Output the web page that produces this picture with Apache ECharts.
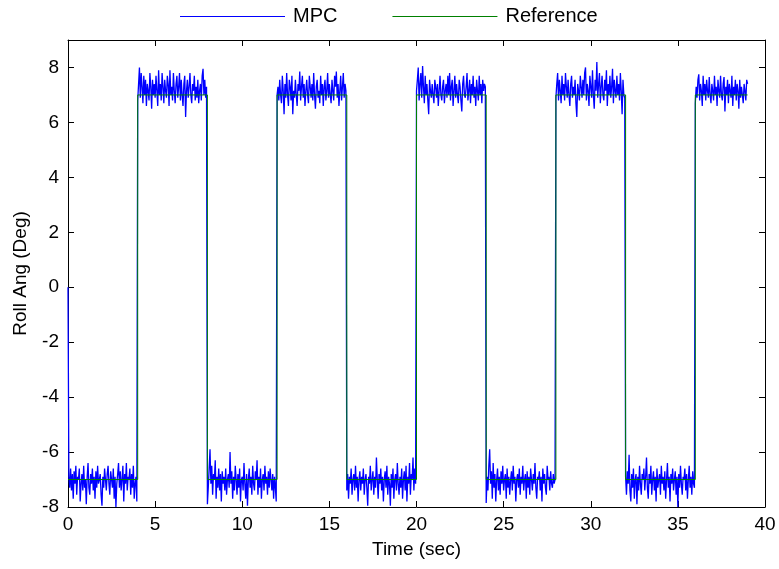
<!DOCTYPE html>
<html>
<head>
<meta charset="utf-8">
<script src="https://cdn.jsdelivr.net/npm/echarts@6/dist/echarts.min.js"></script>
<style>html,body{margin:0;padding:0;background:#fff}#c{width:779px;height:569px}</style>
</head>
<body>
<div id="c"></div>
<script>
// Sample step (s) of the MPC trace
var dt = 0.05;
// MPC roll angle, segment by segment (4 s each, last one 3 s)
var seg0 = [0.0,-6.9,-7.3,-6.6,-7.4,-6.8,-7.7,-6.7,-7.15,-6.5,-7.55,-6.9,-7.0,-6.6,-7.8,-7.15,-6.8,-7.4,-6.5,-7.3,
-7.0,-7.9,-6.9,-6.4,-7.3,-7.55,-6.8,-7.15,-6.6,-7.4,-6.9,-7.7,-6.7,-7.3,-6.5,-7.15,-7.0,-6.8,-7.55,-7.95,
-6.9,-7.3,-6.6,-7.0,-7.4,-6.8,-6.5,-7.15,-7.55,-6.7,-7.0,-7.3,-6.6,-7.7,-6.9,-8.0,-7.15,-6.8,-6.4,-7.3,
-6.7,-7.4,-7.0,-6.5,-7.8,-6.8,-7.15,-6.4,-7.4,-6.9,-7.0,-6.6,-7.55,-6.8,-7.3,-6.5,-7.7,-7.15,-6.9,-7.8];
var seg1 = [6.8,7.4,8.0,6.9,7.8,7.3,6.7,7.7,7.0,7.55,6.6,7.4,7.15,6.8,7.8,7.3,6.5,7.55,7.0,7.4,
6.9,7.7,7.15,6.6,7.9,7.0,7.4,6.8,7.8,7.3,6.7,7.55,7.15,6.9,7.7,7.4,6.6,7.9,7.0,7.3,
6.8,7.8,7.15,6.7,7.4,7.7,6.9,7.3,7.8,6.8,7.55,7.0,6.6,7.4,7.7,6.2,7.15,7.55,6.9,7.3,
7.8,7.0,6.7,7.4,7.15,7.7,6.8,7.3,6.9,7.55,6.7,7.15,7.4,6.8,7.7,7.95,7.0,7.55,6.9,7.3];
var seg2 = [-7.9,-7.3,-6.6,-5.9,-7.15,-6.5,-7.55,-6.8,-7.0,-6.3,-7.7,-6.9,-7.3,-6.6,-7.4,-6.8,-7.8,-6.7,-7.15,-6.9,
-7.4,-6.6,-7.55,-7.0,-6.8,-7.3,-6.0,-7.15,-6.7,-7.7,-6.9,-7.4,-6.5,-7.0,-7.55,-6.8,-7.3,-6.6,-7.8,-7.0,
-6.9,-7.4,-6.4,-7.15,-7.7,-6.8,-7.95,-7.0,-6.6,-7.3,-6.9,-7.55,-6.5,-7.15,-7.4,-6.7,-7.0,-6.3,-7.55,-6.9,
-7.3,-6.6,-7.7,-7.0,-6.8,-7.4,-6.5,-7.15,-6.9,-7.55,-6.7,-7.3,-6.6,-7.0,-7.4,-6.8,-7.7,-6.9,-7.3,-7.8];
var seg3 = [7.0,7.3,6.8,7.55,7.0,6.7,7.7,7.15,6.3,7.4,6.9,7.8,7.0,6.6,7.55,7.3,6.8,7.7,6.3,7.15,
6.9,7.55,7.0,6.6,7.4,7.15,7.85,6.8,7.3,7.7,6.9,7.4,6.6,7.15,7.55,7.0,6.7,7.7,7.3,6.9,
7.4,6.8,7.8,7.0,6.5,7.3,7.55,6.9,7.15,6.7,7.7,7.0,7.4,6.6,7.3,7.55,6.8,7.15,7.8,6.9,
7.4,7.0,6.7,7.55,7.15,6.8,7.7,7.3,7.85,6.9,7.4,6.6,7.15,7.7,6.8,7.3,7.8,6.9,7.4,7.15];
var seg4 = [-7.4,-6.8,-7.7,-6.9,-7.15,-6.6,-7.55,-7.0,-6.8,-7.4,-6.5,-7.3,-6.9,-7.8,-7.0,-6.7,-7.4,-6.9,-7.15,-6.6,
-7.55,-7.0,-6.8,-7.3,-7.95,-6.9,-7.15,-6.5,-7.4,-7.0,-6.7,-7.55,-6.9,-7.3,-6.2,-7.0,-7.7,-6.8,-7.15,-6.6,
-7.4,-6.9,-7.8,-7.0,-6.7,-7.3,-6.5,-7.55,-6.9,-7.15,-7.95,-6.8,-7.3,-6.6,-7.7,-7.0,-6.8,-7.4,-6.4,-7.15,
-7.55,-6.9,-7.3,-6.6,-7.7,-7.0,-6.7,-7.4,-6.5,-7.8,-6.9,-7.15,-6.4,-7.55,-6.8,-7.0,-6.2,-7.4,-6.6,-7.15];
var seg5 = [7.15,7.55,8.0,6.8,7.4,7.8,6.9,8.05,7.3,6.7,7.7,7.0,7.4,6.8,6.3,7.55,7.15,6.9,7.4,7.0,
6.7,7.55,7.3,6.9,7.4,6.6,7.15,7.7,7.0,6.8,7.3,7.55,6.7,7.15,7.4,6.9,7.7,7.0,7.8,6.8,
7.3,7.55,6.6,7.15,7.7,6.9,7.4,7.0,6.7,7.55,7.3,6.8,6.4,7.4,7.7,7.0,6.9,7.3,7.8,6.8,
7.15,7.55,6.7,7.4,7.0,7.7,6.9,7.3,6.6,7.55,7.15,6.8,7.7,7.0,7.4,6.7,7.55,7.15,7.4,7.3];
var seg6 = [-7.85,-6.9,-7.4,-6.5,-5.9,-7.15,-6.7,-7.7,-6.4,-7.3,-6.8,-7.8,-7.0,-6.6,-7.4,-6.9,-7.55,-6.7,-7.15,-6.5,
-7.4,-7.0,-6.8,-7.7,-6.6,-7.3,-6.9,-7.55,-7.0,-6.7,-7.4,-6.5,-7.15,-6.9,-7.8,-7.0,-6.8,-7.3,-6.6,-7.55,
-6.9,-7.15,-6.5,-7.4,-7.0,-6.8,-7.7,-6.7,-7.3,-6.9,-7.55,-6.6,-7.0,-7.4,-6.8,-7.15,-6.4,-7.3,-7.7,-6.9,
-7.0,-6.7,-7.4,-6.9,-7.8,-6.6,-7.15,-6.8,-7.3,-7.55,-6.5,-7.0,-6.9,-7.4,-6.7,-7.15,-7.3,-6.8,-7.15,-7.0];
var seg7 = [6.9,7.4,7.8,6.8,7.55,7.15,6.7,7.7,7.0,7.4,6.8,7.8,7.3,6.9,7.55,7.0,6.6,7.4,7.7,6.9,
7.3,7.0,7.55,6.7,6.2,7.4,7.15,6.8,7.7,7.3,6.9,7.55,7.0,7.8,8.0,6.8,7.4,7.15,6.6,7.7,
7.3,6.9,7.9,7.0,6.5,7.55,7.15,8.2,6.9,7.4,7.8,6.7,7.3,7.7,7.0,6.8,7.55,7.15,7.9,6.6,
7.4,7.0,7.7,6.9,7.3,7.95,6.7,7.55,7.15,6.9,7.7,7.0,7.4,6.8,7.8,7.15,6.3,7.55,7.0,6.9];
var seg8 = [-6.9,-7.55,-6.7,-7.15,-6.1,-7.4,-7.8,-6.8,-7.3,-6.6,-7.7,-7.0,-6.8,-7.9,-6.9,-7.4,-6.5,-7.15,-7.55,-6.8,
-7.0,-6.6,-7.4,-6.9,-6.2,-7.3,-7.7,-6.8,-7.15,-6.5,-7.55,-7.0,-6.7,-7.4,-6.9,-7.8,-6.6,-7.3,-7.0,-6.8,
-7.55,-6.5,-7.15,-6.9,-7.4,-6.7,-7.7,-7.0,-6.4,-7.3,-6.9,-7.8,-6.8,-7.15,-6.6,-7.4,-7.0,-6.7,-7.55,-6.9,
-8.0,-6.8,-7.3,-6.5,-7.15,-7.55,-6.9,-7.0,-6.6,-7.4,-6.8,-7.7,-7.0,-6.5,-7.3,-6.9,-7.55,-6.7,-7.15,-7.3];
var seg9 = [6.7,7.3,6.9,7.55,7.75,6.8,7.4,7.15,6.6,7.7,7.0,7.4,6.8,7.55,7.15,6.9,7.65,7.0,6.7,7.4,
7.15,6.8,7.7,7.0,7.3,6.6,7.55,7.15,6.9,7.7,7.0,6.8,7.4,7.65,6.4,7.3,7.0,7.55,6.7,7.4,
7.15,6.9,7.7,6.6,7.3,7.0,7.55,6.8,7.4,7.15,6.5,7.55,6.9,7.3,7.0,6.7,7.4,7.15,6.8,7.55,7.4];
// Reference square wave: switch times and levels
var refTimes = [0, 4, 8, 12, 16, 20, 24, 28, 32, 36, 39];
var refLevels = [-7, 7, -7, 7, -7, 7, -7, 7, -7, 7, 7];
var xTicks = [0, 5, 10, 15, 20, 25, 30, 35, 40];
var yTicks = [-8, -6, -4, -2, 0, 2, 4, 6, 8];

var mpcVals = [].concat(seg0, seg1, seg2, seg3, seg4, seg5, seg6, seg7, seg8, seg9);
var mpcData = mpcVals.map(function (v, i) { return [+(i * dt).toFixed(2), v]; });
var refData = refTimes.map(function (t, i) { return [t, refLevels[i]]; });

var font = 'Liberation Sans, Arial, sans-serif';
var chart = echarts.init(document.getElementById('c'), null, { renderer: 'canvas' });
var axisCommon = {
  axisLine: { show: true, onZero: false, lineStyle: { color: '#000', width: 1 } },
  axisTick: { show: true, inside: true, length: 6, lineStyle: { color: '#000' } },
  splitLine: { show: false }
};
chart.setOption({
  animation: false,
  backgroundColor: '#fff',
  legend: {
    top: 1.5, left: 175, itemWidth: 105, itemHeight: 1, itemGap: 55,
    textStyle: { fontFamily: font, fontSize: 20, color: '#000', padding: [0, 0, 0, 3] },
    data: [
      { name: 'MPC', icon: 'rect', itemStyle: { color: '#0000ff' } },
      { name: 'Reference', icon: 'rect', itemStyle: { color: '#008000' } }
    ]
  },
  grid: { left: 68, right: 14, top: 40, bottom: 62, containLabel: false },
  xAxis: [
    Object.assign({
      type: 'value', min: xTicks[0], max: xTicks[xTicks.length - 1], interval: 5,
      name: 'Time (sec)', nameLocation: 'middle', nameGap: 33,
      nameTextStyle: { fontFamily: font, fontSize: 19, color: '#000' },
      axisLabel: { fontFamily: font, fontSize: 19, color: '#000', margin: 8 }
    }, axisCommon),
    Object.assign({
      type: 'value', position: 'top', min: 0, max: 40, interval: 5,
      axisLabel: { show: false }
    }, axisCommon)
  ],
  yAxis: [
    Object.assign({
      type: 'value', min: yTicks[0], max: 9, interval: 2,
      name: 'Roll Ang (Deg)', nameLocation: 'middle', nameGap: 38,
      nameTextStyle: { fontFamily: font, fontSize: 19, color: '#000' },
      axisLabel: { fontFamily: font, fontSize: 19, color: '#000', margin: 9,
        formatter: function (v) { return yTicks.indexOf(v) >= 0 ? String(v) : ''; } }
    }, axisCommon),
    Object.assign({
      type: 'value', position: 'right', min: -8, max: 9, interval: 2,
      axisLabel: { show: false }
    }, axisCommon)
  ],
  series: [
    {
      name: 'MPC', type: 'line', data: mpcData, symbol: 'none', showSymbol: false,
      lineStyle: { color: '#0000ff', width: 1.3 }, itemStyle: { color: '#0000ff' }, z: 2
    },
    {
      name: 'Reference', type: 'line', data: refData, step: 'end', symbol: 'none', showSymbol: false,
      lineStyle: { color: '#008000', width: 1 }, itemStyle: { color: '#008000' }, z: 3
    }
  ]
});
</script>
</body>
</html>
